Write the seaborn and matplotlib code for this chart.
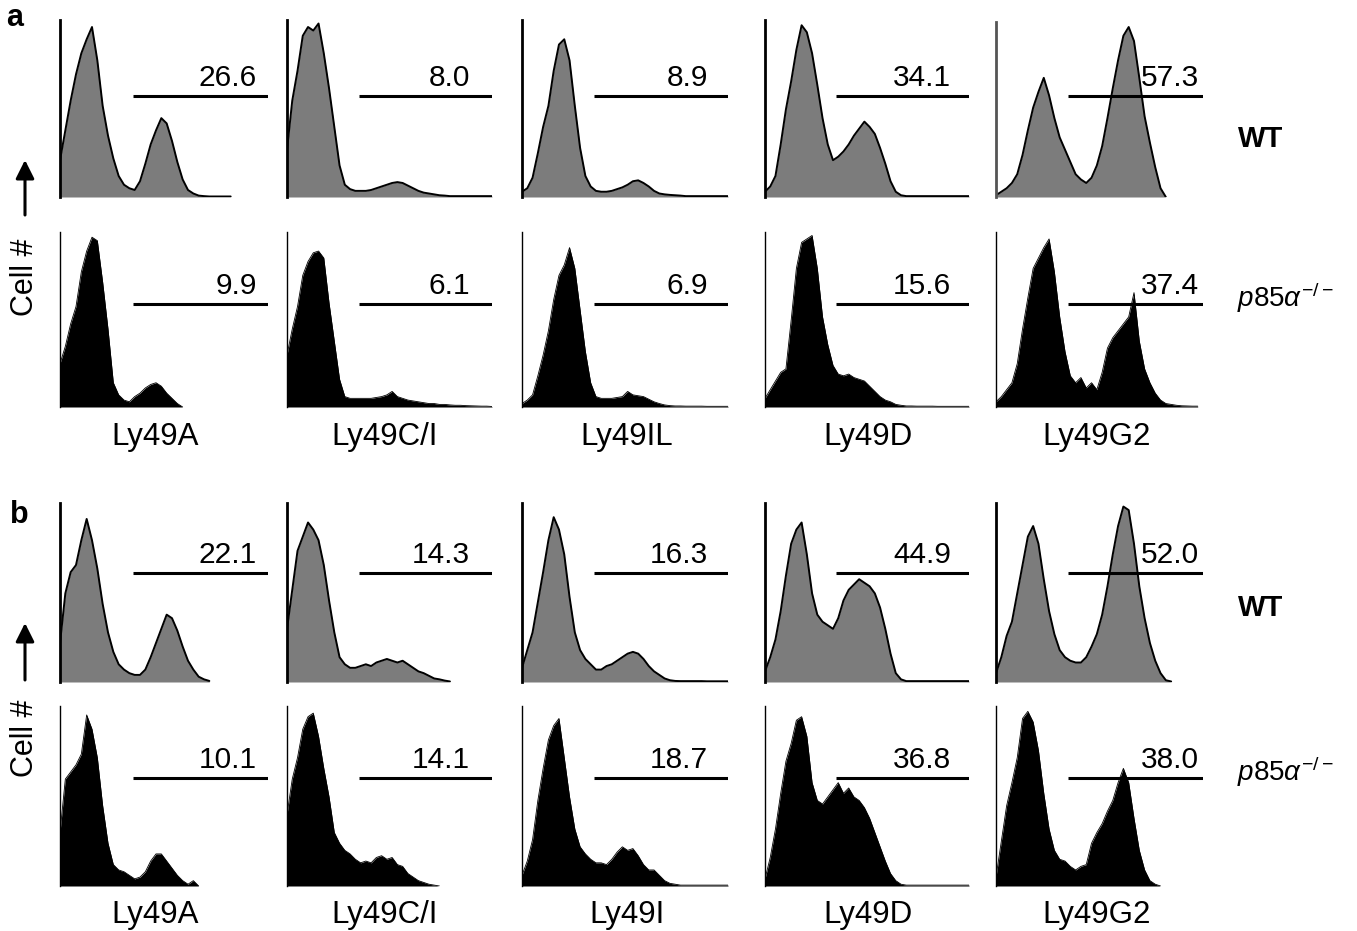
import numpy as np
import matplotlib
matplotlib.use('Agg')
import matplotlib.pyplot as plt
import seaborn as sns

sns.set_style('white')
plt.rcParams['font.family'] = ['Liberation Sans', 'DejaVu Sans']
plt.rcParams['text.color'] = 'black'
plt.rcParams['mathtext.fontset'] = 'custom'
plt.rcParams['mathtext.rm'] = 'Liberation Sans'
plt.rcParams['mathtext.it'] = 'Liberation Sans:italic'

# receptor names under each column
markers_a = ['Ly49A', 'Ly49C/I', 'Ly49IL', 'Ly49D', 'Ly49G2']
markers_b = ['Ly49A', 'Ly49C/I', 'Ly49I', 'Ly49D', 'Ly49G2']

# percent of cells inside the gate
pct_a_wt = [26.6, 8.0, 8.9, 34.1, 57.3]
pct_a_ko = [9.9, 6.1, 6.9, 15.6, 37.4]
pct_b_wt = [22.1, 14.3, 16.3, 44.9, 52.0]
pct_b_ko = [10.1, 14.1, 18.7, 36.8, 38.0]

# histogram heights (% of panel height), 40 channels across each panel
a_wt_ly49a = [21, 38, 55, 70, 82, 90, 97, 78, 52, 35, 22, 12, 7, 5, 4, 9, 19, 30, 38, 45,
              42, 32, 20, 10, 4, 2, 0.8, 0.5, 0.3, 0.3, 0.3, 0.3, 0.3]
a_wt_ly49ci = [27, 55, 72, 92, 97, 95, 99, 82, 62, 40, 18, 7, 4.5, 3.5, 3.5, 3.5, 4, 5, 6, 7,
               8, 8.5, 8, 6.5, 5, 3.5, 2.5, 2, 1.5, 1, 0.8, 0.5, 0.5, 0.5, 0.5, 0.5, 0.5, 0.5, 0.5, 0.5]
a_wt_ly49il = [3, 5, 11, 25, 40, 52, 72, 87, 90, 78, 52, 28, 12, 6, 3.5, 3, 3, 3.5, 4.5, 5.5,
               7, 9, 9.5, 8, 6, 3.5, 2, 1.5, 1.2, 1, 0.8, 0.5, 0.5, 0.5, 0.5, 0.5, 0.5, 0.5, 0.5, 0.5]
a_wt_ly49d = [3, 6, 12, 30, 50, 66, 84, 98, 94, 82, 64, 45, 30, 21, 23, 26, 30, 35, 39, 43,
              40, 36, 28, 19, 9, 3, 1, 0.5, 0.5, 0.5, 0.5, 0.5, 0.5, 0.5, 0.5, 0.5, 0.5, 0.5, 0.5, 0.5]
a_wt_ly49g2 = [1, 3, 5, 8, 13, 24, 38, 51, 60, 68, 58, 45, 34, 27, 20, 13, 10, 8, 11, 18,
               29, 45, 62, 78, 92, 97, 89, 68, 46, 31, 17, 5, 0]

a_ko_ly49a = [25, 35, 48, 58, 78, 90, 98, 96, 72, 45, 14, 7, 4, 3, 6, 8, 11, 13, 14, 12,
              8, 5, 2, 0]
a_ko_ly49ci = [30, 45, 58, 76, 84, 89, 90, 86, 60, 38, 16, 6, 5, 5, 5, 5, 5, 5.5, 6, 7,
               9, 6, 5, 4, 3.5, 3, 2.5, 2, 2, 1.5, 1.5, 1.2, 1, 1, 0.8, 0.7, 0.6, 0.5, 0.5, 0.3]
a_ko_ly49il = [2, 4, 7, 18, 30, 44, 62, 76, 82, 92, 80, 56, 32, 14, 6, 5, 5, 5, 5.5, 6,
               9, 7, 6.5, 6, 4.5, 3, 2, 1.2, 0.8, 0.6, 0.6, 0.5, 0.5, 0.5, 0.5, 0.4, 0.4, 0.4, 0.4, 0.4]
a_ko_ly49d = [5, 10, 15, 20, 22, 50, 80, 95, 97, 99, 80, 52, 36, 24, 19, 18, 19, 17, 16, 15,
              12, 9, 6, 4, 3, 1.5, 1, 0.6, 0.6, 0.5, 0.5, 0.5, 0.5, 0.4, 0.4, 0.4, 0.4, 0.4, 0.4, 0.4]
a_ko_ly49g2 = [3, 6, 10, 14, 25, 45, 63, 80, 86, 92, 97, 78, 52, 32, 18, 14, 17, 11, 14, 10,
               20, 34, 40, 44, 48, 52, 66, 38, 22, 14, 8, 4, 2, 1.5, 1, 0.7, 0.6, 0.5, 0.5]

b_wt_ly49a = [22, 50, 62, 66, 80, 92, 80, 64, 44, 28, 17, 10, 7, 5, 4, 4, 7, 14, 22, 30,
              38, 36, 29, 20, 12, 7, 3, 1.5, 0.6]
b_wt_ly49ci = [30, 52, 74, 82, 90, 86, 80, 66, 46, 28, 14, 10, 8, 8, 9, 10, 9, 11, 12, 13,
               12, 11, 12, 10, 8, 6, 5, 3.5, 2, 1.5, 0.8, 0.3]
b_wt_ly49i = [8, 18, 28, 45, 62, 80, 93, 86, 72, 48, 28, 18, 13, 10, 7, 7, 9, 10, 12, 14,
              16, 17, 16, 13, 9, 6, 4, 2, 1, 0.6, 0.5, 0.5, 0.5, 0.5, 0.5, 0.4, 0.4, 0.4, 0.4, 0.4]
b_wt_ly49d = [6, 14, 24, 40, 60, 78, 86, 90, 72, 50, 38, 34, 32, 30, 36, 46, 52, 55, 58, 56,
              54, 50, 42, 30, 16, 5, 1.5, 0.5, 0.5, 0.5, 0.5, 0.5, 0.5, 0.5, 0.5, 0.5, 0.5, 0.5, 0.5, 0.5]
b_wt_ly49g2 = [5, 14, 26, 34, 50, 66, 82, 88, 78, 58, 40, 27, 18, 14, 12, 11, 11, 14, 20, 27,
               38, 54, 72, 88, 99, 97, 78, 54, 36, 22, 12, 5, 1, 0.3]

b_ko_ly49a = [30, 60, 64, 68, 74, 96, 88, 72, 45, 24, 12, 9, 8, 6, 4, 5, 8, 14, 18, 18,
              14, 10, 6, 3, 1, 3, 0]
b_ko_ly49ci = [40, 60, 72, 88, 95, 97, 84, 66, 50, 30, 24, 20, 18, 15, 13, 14, 13, 16, 17, 15,
               16, 12, 11, 7, 5, 3, 2, 1, 0.5, 0]
b_ko_ly49i = [6, 14, 26, 48, 66, 82, 90, 94, 72, 50, 32, 22, 18, 15, 13, 13, 12, 15, 19, 22,
              20, 21, 17, 12, 9, 9, 6, 3, 1.5, 1, 0.5, 0.5, 0.5, 0.5, 0.5, 0.5, 0.5, 0.5, 0.5, 0.5]
b_ko_ly49d = [4, 16, 32, 52, 70, 80, 93, 95, 84, 58, 48, 46, 50, 54, 58, 52, 55, 50, 48, 44,
              38, 30, 22, 14, 7, 3, 1, 0.5, 0.5, 0.5, 0.5, 0.5, 0.5, 0.5, 0.5, 0.5, 0.5, 0.5, 0.5, 0.5]
b_ko_ly49g2 = [5, 25, 45, 58, 72, 94, 98, 92, 76, 52, 32, 20, 15, 14, 11, 9, 11, 12, 24, 30,
               35, 42, 48, 58, 66, 58, 38, 20, 9, 3, 1, 0]

rows = [
    (a_wt_ly49a, a_wt_ly49ci, a_wt_ly49il, a_wt_ly49d, a_wt_ly49g2),
    (a_ko_ly49a, a_ko_ly49ci, a_ko_ly49il, a_ko_ly49d, a_ko_ly49g2),
    (b_wt_ly49a, b_wt_ly49ci, b_wt_ly49i, b_wt_ly49d, b_wt_ly49g2),
    (b_ko_ly49a, b_ko_ly49ci, b_ko_ly49i, b_ko_ly49d, b_ko_ly49g2),
]
row_pcts = [pct_a_wt, pct_a_ko, pct_b_wt, pct_b_ko]
row_is_wt = [True, False, True, False]

# layout in pixels
W, H = 1357, 931
col_left = [60, 287, 522, 765, 996]
col_width = [208, 205, 206, 204, 207]
label_dx = [95, 98, 105, 103, 101]
row_top = [20, 232, 503, 706]
row_bottom = [197, 407, 682, 886]
gate_frac = [0.57, 0.59, 0.61, 0.60]
num_pad = [11, 22, 20, 18, 4]

fig = plt.figure(figsize=(W / 100, H / 100), dpi=100)

for r in range(4):
    for c in range(5):
        L, w = col_left[c], col_width[c]
        top, bot = row_top[r], row_bottom[r]
        ax = fig.add_axes([L / W, 1 - bot / H, w / W, (bot - top) / H])
        vals = np.array(rows[r][c], dtype=float)
        x = np.arange(len(vals)) / 39
        wt = row_is_wt[r]
        ax.fill_between(x, vals, color='#7c7c7c' if wt else 'black', lw=0)
        sns.lineplot(x=x, y=vals, ax=ax, color='black', lw=1.4 if wt else 0.6)
        ax.set_xlim(0, 1)
        ax.set_ylim(0, 101)
        ax.set_xticks([])
        ax.set_yticks([])
        ax.set_xlabel('')
        ax.set_ylabel('')
        for s in ['top', 'right', 'bottom']:
            ax.spines[s].set_visible(False)
        ax.spines['left'].set_color('black')
        ax.spines['left'].set_linewidth(2.0 if wt else 1.0)
        if r == 0 and c == 4:
            ax.spines['left'].set_linestyle((0, (1, 1)))
            ax.spines['left'].set_color('#555555')
        g = gate_frac[r] * 101
        ax.hlines(g, 0.35, 1.0, color='black', lw=2.2, zorder=5)
        ax.text(1.0 - num_pad[c] / w, gate_frac[r] + 4 / (bot - top),
                f'{row_pcts[r][c]:.1f}', transform=ax.transAxes,
                ha='right', va='bottom', fontsize=21.5, color='black', zorder=6)

# overlay for labels, in pixel coordinates
ov = fig.add_axes([0, 0, 1, 1], facecolor='none')
ov.set_xlim(0, W)
ov.set_ylim(H, 0)
ov.axis('off')

for c in range(5):
    cx = col_left[c] + label_dx[c]
    ov.text(cx, 445, markers_a[c], ha='center', va='baseline', fontsize=22.5)
    ov.text(cx, 923, markers_b[c], ha='center', va='baseline', fontsize=22.5)

ov.text(15, 18, 'a', fontsize=22, fontweight='bold', ha='center', va='center')
ov.text(19, 515, 'b', fontsize=22, fontweight='bold', ha='center', va='center')

for y_wt, y_ko in [(139, 298), (608, 772)]:
    ov.text(1238, y_wt, 'WT', fontsize=21, fontweight='bold', ha='left', va='center')
    ov.text(1237, y_ko, r'$p85\alpha^{-/-}$', fontsize=20, ha='left', va='center')

for y_cell, (y0, y1) in [(277, (215, 160)), (738, (680, 623))]:
    ov.text(25, y_cell, 'Cell #', rotation=90, fontsize=22, ha='center', va='center')
    ov.annotate('', xy=(25, y1), xytext=(25, y0),
                arrowprops=dict(arrowstyle='-|>', color='black', lw=2.2,
                                mutation_scale=28, shrinkA=0, shrinkB=0))

fig.savefig('out.png', dpi=100, facecolor='white')
